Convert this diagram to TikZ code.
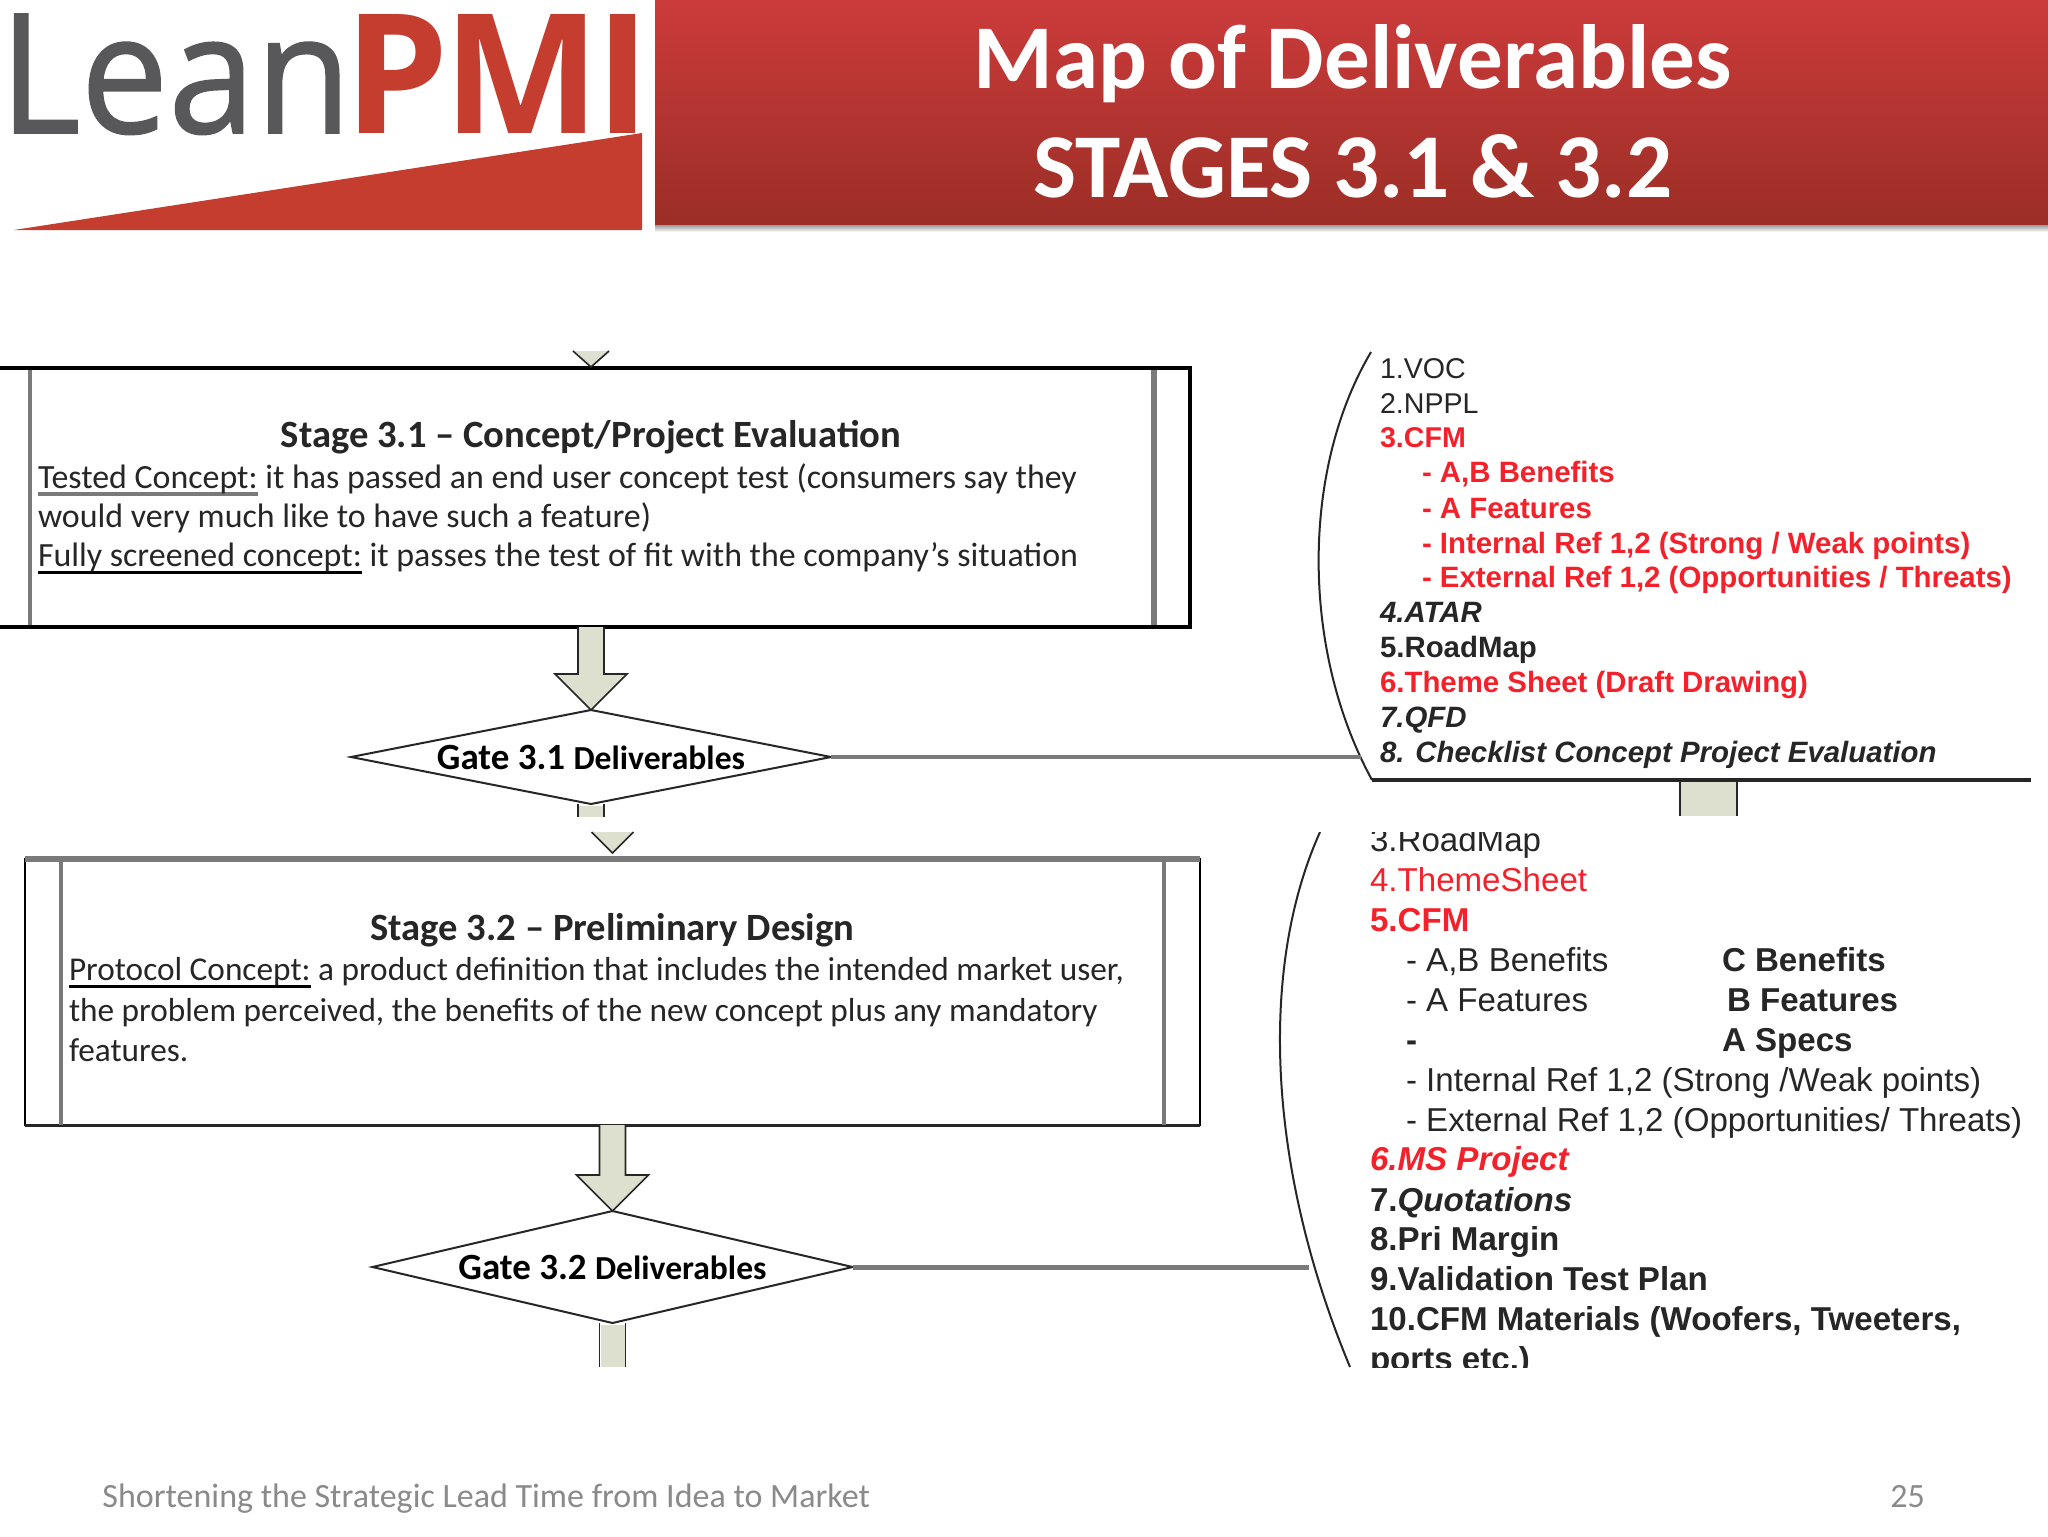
\documentclass[tikz,border=0pt]{standalone}
\usepackage{fontspec}
\usepackage{graphicx}
\usetikzlibrary{shapes.geometric,calc}
\setmainfont{Carlito}
\newfontfamily\arialf{Liberation Sans}
\newfontfamily\logof[FakeBold=1]{Open Sans}
\newfontfamily\logofb{Open Sans}
\definecolor{logored}{HTML}{C43D2E}
\definecolor{logogrey}{HTML}{58585A}
\definecolor{bantop}{HTML}{CC3B3B}
\definecolor{banmid}{HTML}{B23332}
\definecolor{banbot}{HTML}{9B2E26}
\definecolor{pale}{HTML}{DDE0CE}
\definecolor{midgrey}{HTML}{7A7A7A}
\definecolor{inkdark}{HTML}{262626}
\definecolor{listred}{HTML}{F5212A}
\definecolor{footgrey}{HTML}{8A8A8A}
\newcommand{\stageul}[3][1.4pt]{\sbox0{#3}\leavevmode\rlap{\color{#2}\rule[-3.8pt]{\wd0}{#1}}\box0\relax}
\newcommand{\blockarrow}[2]{\draw[blockshape] let \p1=(#1),\p2=(#2) in
  (\x1-6.5pt,\y1)--(\x1-6.5pt,\y2+18pt)--(\x1-18pt,\y2+18pt)--(\x2,\y2)--(\x1+18pt,\y2+18pt)--(\x1+6.5pt,\y2+18pt)--(\x1+6.5pt,\y1);}
\tikzset{
  txt/.style={anchor=base west,inner sep=0pt,outer sep=0pt,text=inkdark},
  bodya/.style={txt,font=\fontsize{16.95}{20}\selectfont},
  bodyb/.style={txt,font=\fontsize{16.65}{20}\selectfont},
  stagetitle/.style={anchor=base,inner sep=0pt,outer sep=0pt,text=inkdark,font=\fontsize{19.3}{22}\bfseries\selectfont},
  gate/.style={diamond,draw=inkdark,line width=1pt,fill=white,inner sep=0pt,outer sep=0pt,
     minimum width=240pt,text=black},
  blockshape/.style={draw=inkdark,line width=0.8pt,fill=pale},
  la/.style={txt,font=\arialf\fontsize{14.3}{17}\selectfont},
  lam/.style={txt,font=\arialf\fontsize{14.7}{17}\selectfont},
  lb/.style={txt,font=\arialf\fontsize{16.55}{19}\selectfont},
  feeder/.style={line width=2pt,draw=midgrey},
  title/.style={anchor=base,inner sep=0pt,text=white,font=\fontsize{45.6}{50}\bfseries\selectfont},
  foot/.style={anchor=base west,inner sep=0pt,text=footgrey,font=\fontsize{17}{20}\selectfont},
}
\begin{document}
\begin{tikzpicture}[x=0.5pt,y=-0.5pt]
\useasboundingbox (0,0) rectangle (2048,1536);
\fill[white] (0,0) rectangle (2048,1536);
% logo
\node[anchor=base west,inner sep=0pt,text=logogrey] (lean) at (-1,133) {\resizebox{176pt}{59.5pt}{\logof Lean}};
\node[anchor=base west,inner sep=0pt,text=logored] (pmi) at (344,133) {\resizebox{153pt}{59.5pt}{\logofb\bfseries P\kern-0.03em M\kern-0.03em I}};
\fill[logored] (14,230) -- (642,133) -- (642,230) -- cycle;
% banner
\shade[top color=black!45,bottom color=white] (655,224) rectangle (2048,232);
\shade[top color=bantop,middle color=banmid,bottom color=banbot] (655,0) rectangle (2048,224);
\node[title] (t1) at (1353,89) {Map of Deliverables};
\node[title] (t2) at (1353,197) {STAGES 3.1 \& 3.2};
% stage 3.1
\node[draw=black,line width=1.7pt,minimum width=599pt,minimum height=129.5pt,inner sep=0pt,outer sep=0pt] (s31) at (591,497.5) {};
\draw[midgrey,line width=1.6pt] (30,370) -- (30,625);
\draw[midgrey,line width=3pt] (1154,370) -- (1154,625);
\node[stagetitle] (s31t) at (591,447) {Stage 3.1 -- Concept/Project Evaluation};
\node[bodya] (s31a) at (38,488) {\stageul[2pt]{midgrey}{Tested Concept:} it has passed an end user concept test (consumers say they};
\node[bodya] (s31b) at (38,527) {would very much like to have such a feature)};
\node[bodya] (s31c) at (38,566) {\stageul{black}{Fully screened concept:} it passes the test of fit with the company’s situation};
% small tips above the boxes
\coordinate (tip31) at ($(s31.north)+(0,-1)$);
\fill[pale] ($(tip31)+(-18,-16)$) -- (tip31) -- ($(tip31)+(18,-16)$) -- cycle;
\draw[inkdark,line width=0.8pt] ($(tip31)+(-18,-16)$) -- (tip31) -- ($(tip31)+(18,-16)$);
% gate 3.1
\node[gate,minimum height=47pt,shape aspect=5.1] (g31) at (591,757) {\fontsize{18.5}{20}\bfseries\selectfont Gate 3.1 {\fontsize{16.8}{20}\selectfont Deliverables}};
\blockarrow{s31.south}{g31.north}
\draw[blockshape] ($(g31.south)+(-13,0)$) -- ($(g31.south)+(-13,13)$) ($(g31.south)+(13,13)$) -- ($(g31.south)+(13,0)$);
\fill[pale] ($(g31.south)+(-12,2)$) rectangle ($(g31.south)+(12,13)$);
% stage 3.2
\node[draw=black,line width=1pt,minimum width=587.5pt,minimum height=133pt,inner sep=0pt,outer sep=0pt] (s32) at (612.5,992) {};
\draw[midgrey,line width=3pt] (25,859) -- (1200,859);
\draw[inkdark,line width=1.5pt] (25,1125) -- (1200,1125);
\draw[midgrey,line width=1.6pt] (61,859) -- (61,1125);
\draw[midgrey,line width=2.4pt] (1164,859) -- (1164,1125);
\node[stagetitle] (s32t) at (612.5,940) {Stage 3.2 -- Preliminary Design};
\node[bodyb] (s32a) at (69,980) {\stageul{black}{Protocol Concept:} a product definition that includes the intended market user,};
\node[bodyb] (s32b) at (69,1021) {the problem perceived, the benefits of the new concept plus any mandatory};
\node[bodyb] (s32c) at (69,1061) {features.};
\coordinate (tip32) at ($(s32.north)+(0,-6)$);
\fill[pale] ($(tip32)+(-21,-21)$) -- (tip32) -- ($(tip32)+(21,-21)$) -- cycle;
\draw[inkdark,line width=0.8pt] ($(tip32)+(-21,-21)$) -- (tip32) -- ($(tip32)+(21,-21)$);
% gate 3.2
\node[gate,minimum height=56pt,shape aspect=4.3] (g32) at (612.5,1267) {\fontsize{18.5}{20}\bfseries\selectfont Gate 3.2 {\fontsize{16.8}{20}\selectfont Deliverables}};
\blockarrow{s32.south}{g32.north}
\draw[blockshape] ($(g32.south)+(-13,0)$) -- ($(g32.south)+(-13,44)$) ($(g32.south)+(13,44)$) -- ($(g32.south)+(13,0)$);
\fill[pale] ($(g32.south)+(-12,2)$) rectangle ($(g32.south)+(12,44)$);
% deliverables list 3.1
\draw[inkdark,line width=1pt] (1371,352) .. controls (1301,470) and (1301,650) .. (1372,780);
\coordinate (br31) at (1361,757);
\draw[feeder] (g31.east) -- (br31);
\coordinate (bl31) at (1372,780);
\coordinate (bl31e) at (2031,780);
\draw[inkdark,line width=1.6pt] (bl31) -- (bl31e);
\draw[blockshape] (1680,781) -- (1680,816) (1737,816) -- (1737,781);
\fill[pale] (1681,782) rectangle (1736,816);
\node[la] (a1) at (1380,378) {1.VOC};
\node[la] (a2) at (1380,413) {2.NPPL};
\node[la,text=listred] (a3) at (1380,447) {\bfseries 3.CFM};
\node[lam,text=listred] (a3a) at (1422,482) {\bfseries - A,B Benefits};
\node[lam,text=listred] (a3b) at (1422,518) {\bfseries - A Features};
\node[lam,text=listred] (a3c) at (1422,553) {\bfseries - Internal Ref 1,2 (Strong / Weak points)};
\node[lam,text=listred] (a3d) at (1422,587) {\bfseries - External Ref 1,2 (Opportunities / Threats)};
\node[lam] (a4) at (1380,622) {\bfseries\itshape 4.ATAR};
\node[lam] (a5) at (1380,657) {\bfseries 5.RoadMap};
\node[lam,text=listred] (a6) at (1380,692) {\bfseries 6.Theme Sheet (Draft Drawing)};
\node[lam] (a7) at (1380,727) {\bfseries\itshape 7.QFD};
\node[lam] (a8) at (1380,762) {\bfseries\itshape 8. Checklist Concept Project Evaluation};
% deliverables list 3.2
\begin{scope}
\clip (1240,832) rectangle (2048,1367);
\draw[inkdark,line width=1pt] (1320,832) .. controls (1258,970) and (1268,1170) .. (1350,1367);
\node[lb] (b3) at (1370,851) {3.RoadMap};
\node[lb,text=listred] (b4) at (1370,891) {4.ThemeSheet};
\node[lb,text=listred] (b5) at (1370,931) {\bfseries 5.CFM};
\node[lb] (b5a) at (1406,971) {- A,B Benefits};
\node[lb] (b5b) at (1406,1011) {- A Features};
\node[lb] (b5c) at (1406,1051) {\bfseries -};
\node[lb] (b5d) at (1406,1091) {- Internal Ref 1,2 (Strong /Weak points)};
\node[lb] (b5e) at (1406,1131) {- External Ref 1,2 (Opportunities/ Threats)};
\node[lb] (c1) at (1722,971) {\bfseries C Benefits};
\node[lb] (c2) at (1727,1011) {\bfseries B Features};
\node[lb] (c3) at (1722,1051) {\bfseries A Specs};
\node[lb,text=listred] (b6) at (1370,1170) {\bfseries\itshape 6.MS Project};
\node[lb] (b7) at (1370,1211) {\bfseries 7.\itshape Quotations};
\node[lb] (b8) at (1370,1250) {\bfseries 8.Pri Margin};
\node[lb] (b9) at (1370,1290) {\bfseries 9.Validation Test Plan};
\node[lb] (b10) at (1370,1330) {\bfseries 10.CFM Materials (Woofers, Tweeters,};
\node[lb] (b11) at (1370,1370) {\bfseries ports etc.)};
\end{scope}
\coordinate (br32) at (1309,1267);
\draw[midgrey,line width=2.5pt] (g32.east) -- (br32);
% footer
\node[foot] (f1) at (102,1507) {Shortening the Strategic Lead Time from Idea to Market};
\node[foot] (f2) at (1890,1507) {25};
\end{tikzpicture}
\end{document}
